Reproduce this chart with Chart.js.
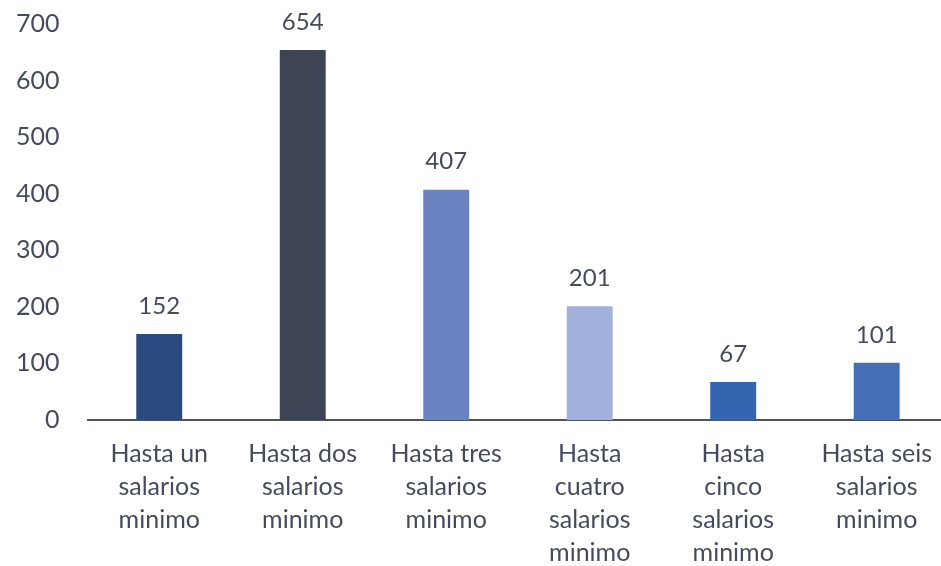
<!DOCTYPE html>
<html>
<head>
<meta charset="utf-8">
<script src="https://cdn.jsdelivr.net/npm/chart.js@4/dist/chart.umd.min.js"></script>
<style>
  html, body { margin: 0; padding: 0; background: #fff; overflow: hidden; }
  #wrap { width: 949px; height: 566px; }
</style>
</head>
<body>
<div id="wrap"><canvas id="salarios"></canvas></div>
<script>
  const categories = [
    ["Hasta un", "salarios", "minimo"],
    ["Hasta dos", "salarios", "minimo"],
    ["Hasta tres", "salarios", "minimo"],
    ["Hasta", "cuatro", "salarios", "minimo"],
    ["Hasta", "cinco", "salarios", "minimo"],
    ["Hasta seis", "salarios", "minimo"],
  ];
  const values = [152, 654, 407, 201, 67, 101];
  const barColors = ["#2a4a7f", "#3d4455", "#6b83c0", "#a1b1dc", "#3366b0", "#456fb5"];
  const yTicks = [0, 100, 200, 300, 400, 500, 600, 700];

  const textColor = "#434b5c";

  // value labels above each bar
  const valueLabels = {
    id: "valueLabels",
    afterDatasetsDraw(chart) {
      const ctx = chart.ctx;
      const meta = chart.getDatasetMeta(0);
      ctx.save();
      ctx.font = "24px Lato";
      ctx.fillStyle = textColor;
      ctx.textAlign = "center";
      ctx.textBaseline = "middle";
      meta.data.forEach(function (bar, i) {
        ctx.fillText(String(values[i]), bar.x, bar.y - 28);
      });
      ctx.restore();
    },
  };

  (function () {
    const ctx = document.getElementById("salarios").getContext("2d");
    new Chart(ctx, {
      type: "bar",
      data: {
        labels: categories,
        datasets: [
          {
            data: values,
            backgroundColor: barColors,
            barPercentage: 0.32,
            categoryPercentage: 1,
          },
        ],
      },
      options: {
        responsive: true,
        maintainAspectRatio: false,
        animation: false,
        layout: { padding: { top: 0, right: 0, left: -12, bottom: -20 } },
        plugins: {
          legend: { display: false },
          tooltip: { enabled: false },
        },
        scales: {
          x: {
            grid: { display: false, drawTicks: false },
            border: { display: true, color: "#4a5264", width: 2 },
            ticks: {
              color: textColor,
              font: { family: "Lato", size: 25, lineHeight: 1.32 },
              padding: 17,
              maxRotation: 0,
              autoSkip: false,
            },
          },
          y: {
            min: 0,
            max: 700,
            afterBuildTicks(axis) {
              axis.ticks = yTicks.map(function (v) { return { value: v }; });
            },
            afterFit(axis) {
              axis.paddingTop = 24;
            },
            grid: { display: false, drawTicks: false },
            border: { display: false },
            ticks: {
              color: textColor,
              font: { family: "Lato", size: 25 },
              padding: 28,
            },
          },
        },
      },
      plugins: [valueLabels],
    });
  })();
</script>
</body>
</html>
